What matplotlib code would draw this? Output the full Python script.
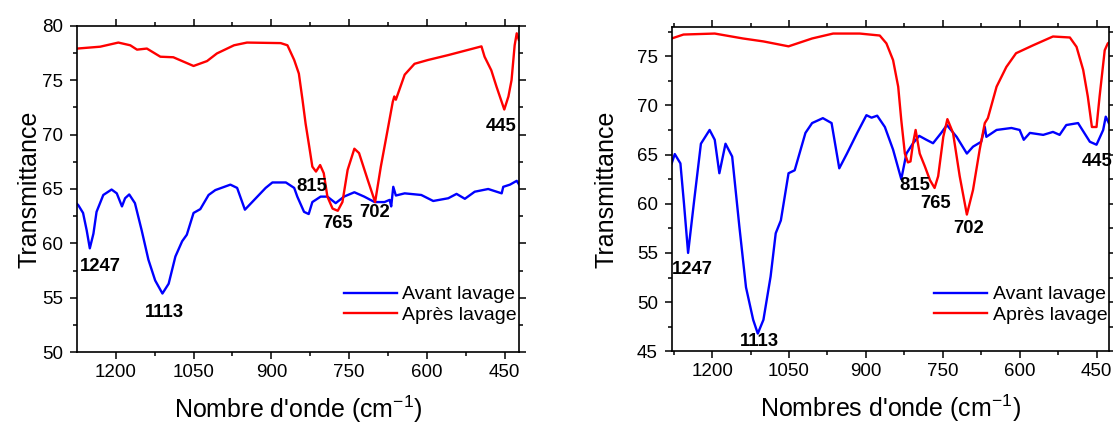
import matplotlib
matplotlib.use("Agg")
import matplotlib.pyplot as plt
from matplotlib.ticker import MultipleLocator

plt.rcParams['font.family'] = ['Liberation Sans', 'DejaVu Sans']

# ---------------- Left panel data ----------------
L_blue_x = [1274, 1272, 1263, 1256, 1250, 1243, 1237, 1224, 1208, 1198, 1188, 1182, 1174, 1163,
            1150, 1137, 1124, 1110, 1098, 1085, 1072, 1063, 1050, 1037, 1021, 1008, 979, 966,
            951, 937, 911, 898, 872, 856, 850, 837, 828, 821, 805, 792, 776, 760, 740, 721,
            701, 682, 672, 669, 665, 660, 643, 611, 588, 559, 543, 527, 508, 482, 456, 453,
            440, 427, 421]
L_blue_y = [63.6, 63.5, 62.8, 61.2, 59.55, 60.9, 62.9, 64.45, 64.95, 64.6, 63.4, 64.15, 64.5, 63.7,
            61.2, 58.5, 56.6, 55.4, 56.3, 58.8, 60.2, 60.8, 62.8, 63.15, 64.45, 64.9, 65.4, 65.1,
            63.1, 63.8, 65.1, 65.6, 65.6, 65.1, 64.3, 62.9, 62.7, 63.8, 64.3, 64.3, 63.7, 64.3, 64.7, 64.3,
            63.8, 63.8, 64.0, 63.4, 65.2, 64.4, 64.6, 64.45, 63.9, 64.15, 64.55, 64.1, 64.75, 65.0, 64.6, 65.2,
            65.4, 65.75, 65.3]
L_red_x = [1274, 1230, 1195, 1172, 1159, 1140, 1114, 1089, 1050, 1024, 1005, 972, 947, 882,
           869, 856, 847, 840, 834, 827, 821, 814, 806, 799, 792, 782, 772, 763, 753, 740,
           731, 714, 700, 689, 676, 666, 663, 660, 643, 624, 598, 559, 527, 495, 489, 476,
           466, 451, 443, 437, 431, 427, 423]
L_red_y = [77.9, 78.07, 78.45, 78.2, 77.8, 77.9, 77.15, 77.1, 76.3, 76.75, 77.45, 78.2, 78.45, 78.4,
           78.2, 76.85, 75.6, 73.2, 71.0, 68.9, 67.05, 66.6, 67.2, 66.45, 64.3, 63.2, 63.0, 63.8, 66.75, 68.7,
           68.3, 65.8, 63.8, 67.05, 70.4, 73.0, 73.5, 73.2, 75.5, 76.5, 76.85, 77.3, 77.7, 78.1, 77.15, 75.9,
           74.4, 72.3, 73.5, 75.0, 78.2, 79.3, 78.7]
L_labels = ['1247', '1113', '815', '765', '702', '445']
L_label_x = [1230, 1107, 822, 773, 700, 457]
L_label_y = [57.9, 53.7, 65.2, 61.8, 62.8, 70.7]

# ---------------- Right panel data ----------------
R_blue_x = [1279, 1273, 1262, 1255, 1247, 1235, 1222, 1205, 1195, 1186, 1174, 1161, 1147, 1134,
            1120, 1111, 1100, 1086, 1076, 1066, 1051, 1039, 1018, 1005, 984, 967, 952, 937, 917,
            899, 889, 878, 863, 847, 831, 821, 808, 796, 782, 769, 753, 742, 723, 703, 691, 675,
            668, 665, 645, 616, 600, 592, 580, 554, 535, 522, 509, 486, 480, 463, 450, 437, 432, 426]
R_blue_y = [64.1, 65.05, 64.1, 60.0, 55.0, 60.4, 66.1, 67.5, 66.5, 63.1, 66.1, 64.8, 57.7, 51.5,
            48.2, 46.8, 48.2, 52.6, 57.0, 58.3, 63.1, 63.4, 67.2, 68.2, 68.7, 68.2, 63.6, 65.1, 67.2,
            69.0, 68.75, 68.95, 67.8, 65.5, 62.5, 65.1, 66.15, 66.9, 66.5, 66.15, 67.2, 68.0, 66.8, 65.1, 65.8, 66.3,
            67.8, 66.8, 67.5, 67.7, 67.5, 66.5, 67.2, 67.0, 67.3, 67.0, 68.0, 68.2, 67.7, 66.3, 66.0, 67.5, 68.85, 68.2]
R_red_x = [1279, 1256, 1195, 1140, 1100, 1051, 1005, 964, 912, 873, 860, 847, 837, 831, 824,
           818, 813, 808, 803, 795, 785, 775, 766, 759, 749, 741, 730, 717, 703, 691, 678,
           668, 662, 645, 626, 607, 574, 535, 502, 489, 476, 467, 459, 450, 444, 434, 428, 425]
R_red_y = [76.8, 77.2, 77.3, 76.8, 76.5, 76.0, 76.8, 77.3, 77.3, 77.1, 76.3, 74.6, 71.9, 68.5, 65.1,
           64.2, 64.3, 66.15, 67.5, 65.1, 63.8, 62.4, 61.6, 62.8, 66.8, 68.6, 67.2, 62.8, 58.9, 61.4, 65.5,
           68.2, 68.7, 71.9, 73.9, 75.3, 76.1, 77.0, 76.9, 75.95, 73.6, 70.9, 67.8, 67.8, 70.9, 75.6, 76.3, 76.4]
R_labels = ['1247', '1113', '815', '765', '702', '445']
R_label_x = [1239, 1108, 805, 765, 700, 449]
R_label_y = [53.3, 46.0, 61.9, 60.0, 57.5, 64.3]

x_ticks = [1200, 1050, 900, 750, 600, 450]
series_names = ['Avant lavage', 'Après lavage']

fig = plt.figure(figsize=(11.13, 4.26), dpi=100)
ax1 = fig.add_axes([0.0695, 0.173, 0.3971, 0.7667])
ax2 = fig.add_axes([0.6035, 0.1754, 0.3932, 0.762])

panels = [
    (ax1, L_blue_x, L_blue_y, L_red_x, L_red_y, L_labels, L_label_x, L_label_y,
     (1274, 422), (50, 80), "Nombre d'onde (cm$^{\\mathregular{-1}}$)", 1.0, (0.995, 0.087)),
    (ax2, R_blue_x, R_blue_y, R_red_x, R_red_y, R_labels, R_label_x, R_label_y,
     (1279, 425), (45, 78), "Nombres d'onde (cm$^{\\mathregular{-1}}$)", 13.0, (0.995, 0.084)),
]

for ax, bx, by, rx, ry, labs, lx, ly, xl, yl, xlab, ypad, lpos in panels:
    ax.plot(bx, by, color='#0000ff', lw=1.7, label=series_names[0])
    ax.plot(rx, ry, color='#ff0000', lw=1.7, label=series_names[1])
    for t, x, y in zip(labs, lx, ly):
        ax.text(x, y, t, ha='center', va='center', fontsize=13.3, fontweight='bold')
    ax.set_xlim(*xl)
    ax.set_ylim(*yl)
    ax.set_xticks(x_ticks)
    ax.xaxis.set_minor_locator(MultipleLocator(75))
    ax.yaxis.set_major_locator(MultipleLocator(5))
    ax.yaxis.set_minor_locator(MultipleLocator(2.5))
    ax.tick_params(which='both', direction='out', top=True, right=True, labelsize=13.5, width=1.1)
    ax.tick_params(axis='y', pad=5)
    ax.tick_params(which='major', length=5)
    ax.tick_params(which='minor', length=3)
    for s in ax.spines.values():
        s.set_linewidth(1.2)
    ax.set_xlabel(xlab, fontsize=18, labelpad=9)
    ax.set_ylabel('Transmittance', fontsize=18, labelpad=ypad)
    ax.legend(loc='lower right', bbox_to_anchor=lpos, frameon=False, fontsize=14,
              handlelength=2.7, handletextpad=0.3, labelspacing=0.15,
              borderaxespad=0.0, borderpad=0.0)

fig.savefig('out.png', dpi=100)
